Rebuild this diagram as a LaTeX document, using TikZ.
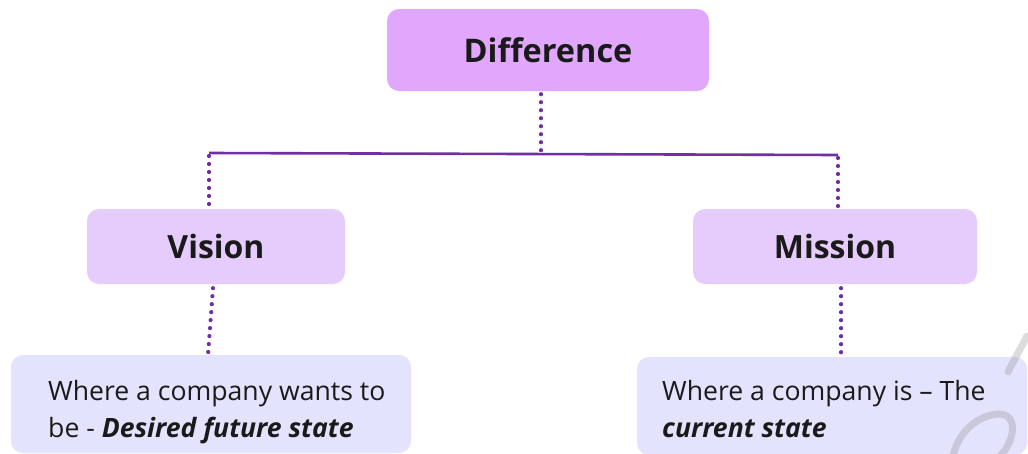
\documentclass[tikz,border=0pt]{standalone}
\usepackage{fontspec}
\setmainfont{Open Sans}
\begin{document}
\definecolor{topfill}{HTML}{E1A7FC}
\definecolor{midfill}{HTML}{E6CCFD}
\definecolor{lowfill}{HTML}{E3E3FD}
\definecolor{linkcol}{HTML}{7030A0}
\definecolor{inkcol}{HTML}{1A1A1A}
\begin{tikzpicture}[x=1pt,y=-1pt,
  headbox/.style={rectangle,rounded corners=12pt,fill=topfill,inner sep=0pt,
    text=inkcol,font=\fontsize{32.5}{38}\selectfont\bfseries},
  keybox/.style={rectangle,rounded corners=12pt,fill=midfill,inner sep=0pt,
    text=inkcol,font=\fontsize{32}{37}\selectfont\bfseries},
  descbox/.style={rectangle,rounded corners=12pt,fill=lowfill,inner sep=0pt},
  desctext/.style={anchor=base west,inner sep=0pt,text=inkcol,align=left,
    font=\fontsize{26.6}{37}\selectfont},
  dotlink/.style={draw=linkcol,line width=4.2pt,line cap=round,
    dash pattern=on 0pt off 8pt},
  barlink/.style={draw=linkcol,line width=2.6pt},
  wmark/.style={draw=black!45,opacity=0.3,line width=7pt,line cap=round}]
\useasboundingbox (0,0) rectangle (1028,453);
\fill[white] (0,0) rectangle (1028,453);

% boxes
\node[headbox,minimum width=322pt,minimum height=82pt] (diff) at (548,50) {Difference};
\node[keybox,minimum width=258pt,minimum height=75pt] (vision) at (216,246.5) {Vision};
\node[keybox,minimum width=284pt,minimum height=75pt] (mission) at (835,246.5) {Mission};
\node[descbox,minimum width=400pt,minimum height=98pt] (vbox) at (211,404) {};
\node[descbox,minimum width=390pt,minimum height=98pt] (mbox) at (832,406) {};

% watermark strokes in the corner
\draw[wmark] (1027,336) -- (1008,372);
\draw[wmark] (953,456) .. controls (958,434) and (975,416) .. (998,414)
  .. controls (1018,413) and (1016,440) .. (1000,456);

% description texts (anchored on the baseline of the last line)
\node[desctext] (vtext) at (48,437) {Where a company wants to\\be - \textbf{\textit{Desired future state}}};
\node[desctext] (mtext) at (662,437) {Where a company is – The\\\textbf{\textit{current state}}};

% connectors
\coordinate (barL) at (209,153);
\coordinate (barR) at (838,155);
\coordinate (barM) at (541,154);
\draw[barlink] (barL) -- (barR);
\draw[dotlink] (diff.south -| barM) ++(0,3) -- (barM);
\draw[dotlink] (barL) ++(0,3) -- (vision.north -| barL);
\draw[dotlink] (barR) ++(0,3) -- (mission.north -| barR);
\draw[dotlink] ([xshift=-3pt]vision.south) ++(0,4) -- ([xshift=-3pt]vbox.north);
\draw[dotlink] ([xshift=6pt]mission.south) ++(0,4) -- ([xshift=9pt]mbox.north);
\end{tikzpicture}
\end{document}
